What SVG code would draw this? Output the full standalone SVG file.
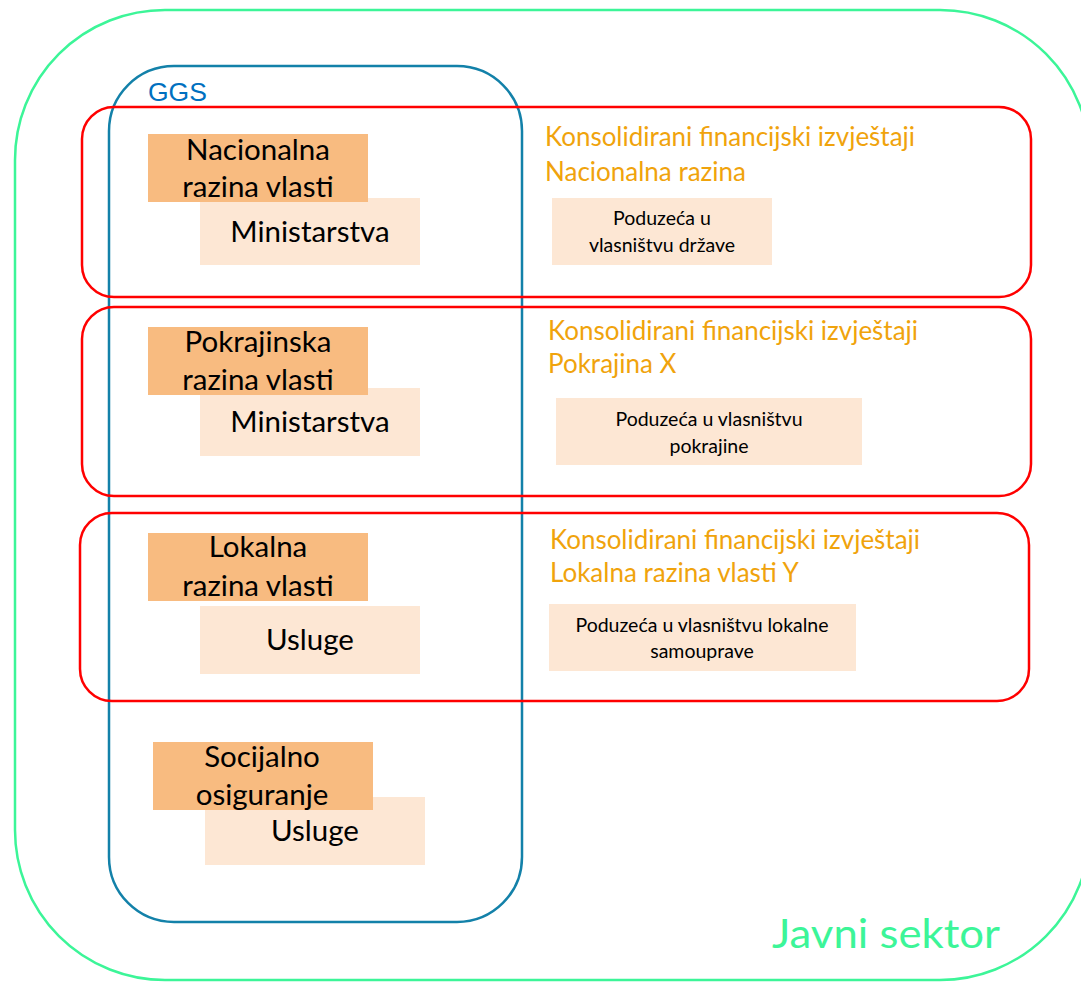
<svg xmlns="http://www.w3.org/2000/svg" width="1081" height="982" viewBox="0 0 1081 982">
<style>
.green{fill:none;stroke:#3cf598;stroke-width:2.5}
.blue{fill:none;stroke:#1381a9;stroke-width:2.5}
.red{fill:none;stroke:#ff0000;stroke-width:2.5}
.dark{fill:#f8bb80}
.light{fill:#fde7d4}
.t{font-family:Lato,"Open Sans","Liberation Sans",sans-serif;fill:#000;text-anchor:middle}
.big{font-size:29.5px}
.small{font-size:19.5px}
.ot{font-family:Lato,"Open Sans","Liberation Sans",sans-serif;fill:#f0a30c;font-size:26px}
</style>
<rect width="1081" height="982" fill="#ffffff"/>
<g id="javni-sektor">
<rect class="green" x="15" y="10" width="1075" height="970" rx="150" ry="150"/>
<text x="772" y="948" font-family="Lato,'Open Sans','Liberation Sans',sans-serif" font-size="40" fill="#3cf598" textLength="228" lengthAdjust="spacingAndGlyphs">Javni sektor</text>
</g>
<g id="ggs">
<rect class="blue" x="109" y="66" width="413" height="856" rx="65" ry="65"/>
<text x="148" y="101" font-family="'Liberation Sans',Arial,sans-serif" font-size="26.5" fill="#0070c0">GGS</text>
</g>
<g id="nacionalna-grupa">
<rect class="red" x="82" y="107" width="949" height="190" rx="32" ry="32"/>
<text class="ot" x="545" y="146" textLength="370" lengthAdjust="spacingAndGlyphs">Konsolidirani financijski izvještaji</text>
<text class="ot" x="545" y="181">Nacionalna razina</text>
</g>
<g id="pokrajina-grupa">
<rect class="red" x="82" y="307" width="949" height="189" rx="32" ry="32"/>
<text class="ot" x="548" y="340" textLength="370" lengthAdjust="spacingAndGlyphs">Konsolidirani financijski izvještaji</text>
<text class="ot" x="548" y="373">Pokrajina X</text>
</g>
<g id="lokalna-grupa">
<rect class="red" x="80" y="513" width="949" height="188" rx="32" ry="32"/>
<text class="ot" x="550" y="549" textLength="370" lengthAdjust="spacingAndGlyphs">Konsolidirani financijski izvještaji</text>
<text class="ot" x="550" y="582">Lokalna razina vlasti Y</text>
</g>
<g id="ministarstva-1">
<rect class="light" x="200" y="198" width="220" height="67"/>
<text class="t big" x="310" y="242">Ministarstva</text>
</g>
<g id="nacionalna">
<rect class="dark" x="148" y="134" width="220" height="68"/>
<text class="t big" x="258" y="160">Nacionalna</text>
<text class="t big" x="258" y="197">razina vlasti</text>
</g>
<g id="ministarstva-2">
<rect class="light" x="200" y="388" width="220" height="68"/>
<text class="t big" x="310" y="432">Ministarstva</text>
</g>
<g id="pokrajinska">
<rect class="dark" x="148" y="327" width="220" height="68"/>
<text class="t big" x="258" y="352">Pokrajinska</text>
<text class="t big" x="258" y="390">razina vlasti</text>
</g>
<g id="usluge-1">
<rect class="light" x="200" y="606" width="220" height="68"/>
<text class="t big" x="310" y="650">Usluge</text>
</g>
<g id="lokalna">
<rect class="dark" x="148" y="533" width="220" height="68"/>
<text class="t big" x="258" y="557">Lokalna</text>
<text class="t big" x="258" y="596">razina vlasti</text>
</g>
<g id="usluge-2">
<rect class="light" x="205" y="797" width="220" height="68"/>
<text class="t big" x="315" y="841">Usluge</text>
</g>
<g id="socijalno">
<rect class="dark" x="153" y="742" width="220" height="68"/>
<text class="t big" x="262" y="767">Socijalno</text>
<text class="t big" x="262" y="805">osiguranje</text>
</g>
<g id="poduzeca-drzave">
<rect class="light" x="552" y="198" width="220" height="67"/>
<text class="t small" x="662" y="225">Poduzeća u</text>
<text class="t small" x="662" y="252">vlasništvu države</text>
</g>
<g id="poduzeca-pokrajine">
<rect class="light" x="556" y="398" width="306" height="67"/>
<text class="t small" x="709" y="426">Poduzeća u vlasništvu</text>
<text class="t small" x="709" y="453">pokrajine</text>
</g>
<g id="poduzeca-lokalne">
<rect class="light" x="549" y="604" width="307" height="67"/>
<text class="t small" x="702" y="632">Poduzeća u vlasništvu lokalne</text>
<text class="t small" x="702" y="658">samouprave</text>
</g>
<g id="connectors"/>
</svg>
